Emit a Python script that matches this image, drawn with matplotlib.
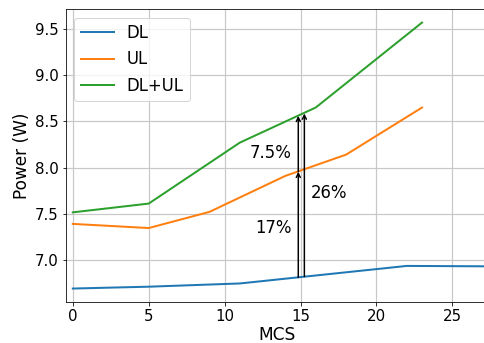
import matplotlib
matplotlib.use("Agg")
import matplotlib.pyplot as plt

# data
dl_x = [0, 5, 11, 22, 28]
dl_y = [6.69, 6.71, 6.745, 6.935, 6.93]

ul_x = [0, 5, 9, 14, 18, 23]
ul_y = [7.39, 7.345, 7.52, 7.91, 8.14, 8.65]

both_x = [0, 5, 11, 16, 23]
both_y = [7.515, 7.61, 8.27, 8.65, 9.57]

# arrows between the curves near MCS 15 and their percentage labels
arrow_x = [14.85, 14.85, 15.25]
arrow_y0 = [6.81, 7.955, 6.82]
arrow_y1 = [7.955, 8.56, 8.585]
arrow_txt = ["17%", "7.5%", "26%"]
txt_x = [14.4, 14.4, 15.7]
txt_y = [7.35, 8.16, 7.72]
txt_ha = ["right", "right", "left"]

DPI = 72
fig = plt.figure(figsize=(484 / DPI, 343 / DPI), dpi=DPI)
ax = fig.add_axes([0.136, 0.12, 0.874, 0.853])

ax.plot(dl_x, dl_y, color="#1f77b4", lw=2, label="DL")
ax.plot(ul_x, ul_y, color="#ff7f0e", lw=2, label="UL")
ax.plot(both_x, both_y, color="#2ca02c", lw=2, label="DL+UL")

for x, y0, y1 in zip(arrow_x, arrow_y0, arrow_y1):
    ax.annotate("", xy=(x, y1), xytext=(x, y0),
                arrowprops=dict(arrowstyle="->", lw=1.5, color="black",
                                shrinkA=0, shrinkB=0, mutation_scale=10))
for t, x, y, ha in zip(arrow_txt, txt_x, txt_y, txt_ha):
    ax.text(x, y, t, fontsize=16.5, ha=ha, va="center")

ax.set_xlim(-0.46, 27.4)
ax.set_ylim(6.546, 9.714)
ax.set_xticks([0, 5, 10, 15, 20, 25])
ax.set_yticks([7.0, 7.5, 8.0, 8.5, 9.0, 9.5])
ax.tick_params(labelsize=15)
ax.set_xlabel("MCS", fontsize=17, labelpad=2)
ax.set_ylabel("Power (W)", fontsize=17)
ax.grid(True, lw=1.2, color="#c8c8c8")
ax.legend(loc="upper left", fontsize=16.5)

fig.savefig("out.png", dpi=DPI)
